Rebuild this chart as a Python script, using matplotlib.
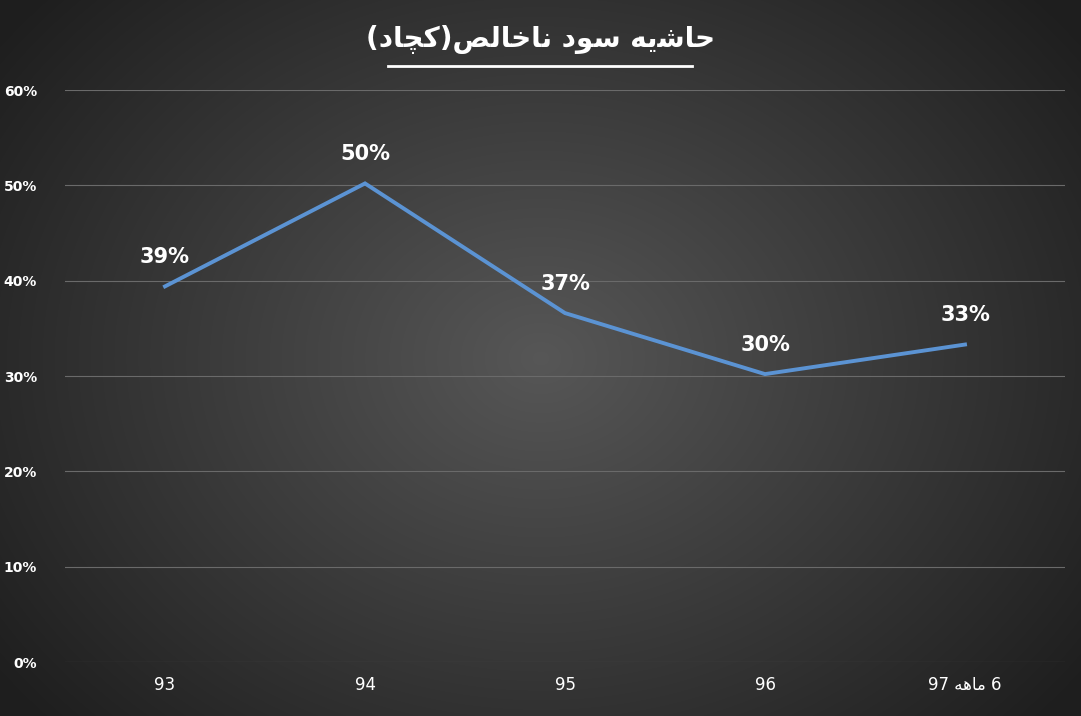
import numpy as np
import matplotlib
matplotlib.use('Agg')
import matplotlib.pyplot as plt

# values
categories = ['93', '94', '95', '96',
              '97 \uFEEA\uFEEB\uFE8E\uFEE3 6']
margins = [39.4, 50.2, 36.6, 30.2, 33.3]
labels = ['39%', '50%', '37%', '30%', '33%']
yticks = [0, 10, 20, 30, 40, 50, 60]

# title in presentation forms, visual order (matplotlib does no Arabic shaping)
title = ('(' + '\uFEA9\uFE8E\uFB7D\uFB90' + ')' +
         '\uFEBA\uFEDF\uFE8E\uFEA7\uFE8E\uFEE7' + ' ' +
         '\uFEA9\uFEEE\uFEB3' + ' ' +
         '\uFEEA\uFBFE\uFEB7\uFE8E\uFEA3')

W, H = 1081, 716
fig = plt.figure(figsize=(W/100, H/100), dpi=100)

# radial gradient background
bg = fig.add_axes([0, 0, 1, 1])
yy, xx = np.mgrid[0:H, 0:W]
r = np.sqrt(((xx - W/2)/(W*0.62))**2 + ((yy - H/2)/(H*0.75))**2)
g = np.clip(0.34 - 0.22*r, 0.12, 0.34)
bg.imshow(np.dstack([g, g, g]), aspect='auto', extent=[0, 1, 0, 1])
bg.axis('off')

ax = fig.add_axes([65/W, 1-662/H, 1000/W, 572/H])
ax.patch.set_alpha(0)
x = np.arange(len(categories))
ax.plot(x, margins, color='#5B93D3', lw=2.8, solid_joinstyle='miter')
for xi, v, s in zip(x, margins, labels):
    ax.annotate(s, (xi, v), xytext=(0, 14), textcoords='offset points',
                ha='center', va='bottom', color='white', fontsize=15, fontweight='bold')
ax.set_xlim(-0.5, len(categories) - 0.5)
ax.set_ylim(0, 60)
ax.set_yticks(yticks)
ax.set_yticklabels([f'{t}%' for t in yticks], color='white', fontsize=10, fontweight='bold')
ax.set_xticks(x)
ax.set_xticklabels(categories, color='white', fontsize=12)
ax.tick_params(length=0, pad=10)
ax.tick_params(axis='y', pad=20)
ax.grid(axis='y', color='#6a6a6a', lw=0.8)
for sp in ax.spines.values():
    sp.set_visible(False)

fig.text(540/W, 1-40/H, title, ha='center', va='center', color='white',
         fontsize=20, fontweight='bold', family=['DejaVu Sans'])
fig.add_artist(plt.Line2D([388/W, 692/W], [1-66/H, 1-66/H], color='white', lw=2))

fig.savefig('out.png', dpi=100)
